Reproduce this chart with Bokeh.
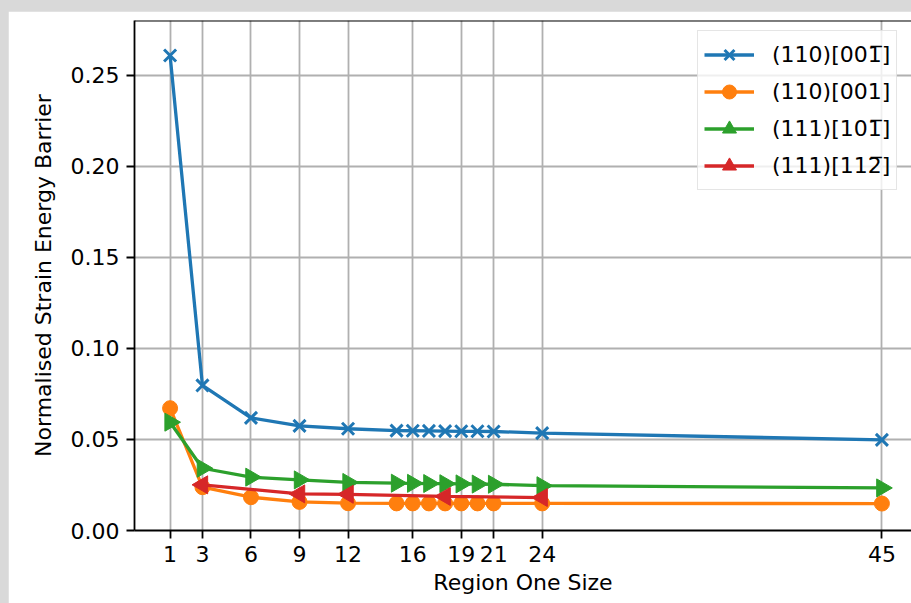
import math

from bokeh.embed import file_html
from bokeh.layouts import column
from bokeh.models import FixedTicker, PrintfTickFormatter, Range1d, Span
from bokeh.plotting import figure
from bokeh.resources import INLINE

# Region sizes sampled for each slip system
sizes_110_00m1 = [1, 3, 6, 9, 12, 15, 16, 17, 18, 19, 20, 21, 24, 45]
barrier_110_00m1 = [0.261, 0.0797, 0.0619, 0.0575, 0.0559, 0.0549, 0.0548, 0.0547,
                    0.0546, 0.0545, 0.0545, 0.0544, 0.0535, 0.0498]

sizes_110_001 = [1, 3, 6, 9, 12, 15, 16, 17, 18, 19, 20, 21, 24, 45]
barrier_110_001 = [0.0672, 0.0238, 0.0183, 0.0157, 0.0150, 0.0149, 0.0149, 0.0149,
                   0.0149, 0.0149, 0.0149, 0.0149, 0.0149, 0.0148]

sizes_111_10m1 = [1, 3, 6, 9, 12, 15, 16, 17, 18, 19, 20, 21, 24, 45]
barrier_111_10m1 = [0.0595, 0.0342, 0.0293, 0.0278, 0.0264, 0.0260, 0.0259, 0.0258,
                    0.0257, 0.0256, 0.0255, 0.0254, 0.0246, 0.0234]

sizes_111_11m2 = [3, 9, 12, 18, 24]
barrier_111_11m2 = [0.0251, 0.0201, 0.0199, 0.0187, 0.0181]

x_ticks = [1, 3, 6, 9, 12, 16, 19, 21, 24, 45]
y_ticks = [0.0, 0.05, 0.10, 0.15, 0.20, 0.25]

# slip-system names; U+0305 puts the bar over the negative index
labels = ["(110)[001\u0305]", "(110)[001]", "(111)[101\u0305]", "(111)[112\u0305]"]

FONT = "DejaVu Sans"

p = figure(
    width=903, height=592,
    x_range=Range1d(-1.2, 46.83), y_range=Range1d(0, 0.2802),
    output_backend="svg", toolbar_location=None,
    min_border_left=126, min_border_right=0, min_border_top=9, min_border_bottom=73,
    background_fill_color="white", border_fill_color="white",
    outline_line_color=None,
)
p.margin = (11, 0, 0, 8)

# axes
p.xaxis.ticker = FixedTicker(ticks=x_ticks)
p.yaxis.ticker = FixedTicker(ticks=y_ticks)
p.yaxis.formatter = PrintfTickFormatter(format="%.2f")
p.xaxis.axis_label = "Region One Size"
p.yaxis.axis_label = "Normalised Strain Energy Barrier"
for ax in (p.xaxis, p.yaxis):
    ax.axis_line_color = "black"
    ax.axis_line_width = 1.8
    ax.major_tick_line_color = "black"
    ax.major_tick_line_width = 1.8
    ax.major_tick_in = 0
    ax.major_tick_out = 8
    ax.minor_tick_line_color = None
    ax.major_label_text_font = FONT
    ax.major_label_text_font_size = "22px"
    ax.major_label_text_color = "black"
    ax.major_label_standoff = 7
    ax.axis_label_text_font = FONT
    ax.axis_label_text_font_size = "22px"
    ax.axis_label_text_font_style = "normal"
    ax.axis_label_text_color = "black"
p.xaxis.axis_label_standoff = 5
p.yaxis.axis_label_standoff = 12

# grid
p.xgrid.ticker = FixedTicker(ticks=x_ticks)
p.ygrid.ticker = FixedTicker(ticks=y_ticks)
for g in (p.xgrid, p.ygrid):
    g.grid_line_color = "#b0b0b0"
    g.grid_line_width = 1.8

# top spine
p.add_layout(Span(location=0.2802, dimension="width", line_color="black", line_width=1.8))

series = [
    (sizes_110_00m1, barrier_110_00m1, "#1f77b4", dict(marker="x", size=17, line_width=3)),
    (sizes_110_001, barrier_110_001, "#ff7f0e", dict(marker="circle", size=15, line_width=1)),
    (sizes_111_10m1, barrier_111_10m1, "#2ca02c", dict(marker="triangle", size=18, line_width=1,
                                                       angle=-math.pi / 2)),
    (sizes_111_11m2, barrier_111_11m2, "#d62728", dict(marker="triangle", size=18, line_width=1,
                                                       angle=math.pi / 2)),
]

for (xs, ys, color, mk), label in zip(series, labels):
    p.line(xs, ys, line_color=color, line_width=3.3, legend_label=label)
    p.scatter(xs, ys, fill_color=color, line_color=color, legend_label=label, **mk)

lg = p.legend[0]
lg.location = (563, 340)
lg.label_text_font = FONT
lg.label_text_font_size = "22px"
lg.label_text_color = "black"
lg.glyph_width = 50
lg.glyph_height = 35
lg.label_height = 22
lg.label_standoff = 18
lg.spacing = 2
lg.padding = 6
lg.margin = 0
lg.border_line_color = "#cccccc"
lg.border_line_width = 1.5
lg.background_fill_color = "white"
lg.background_fill_alpha = 0.8

page = column(p, styles={"background-color": "#d9d9d9"})

open("out.html", "w").write(file_html(page, INLINE))
